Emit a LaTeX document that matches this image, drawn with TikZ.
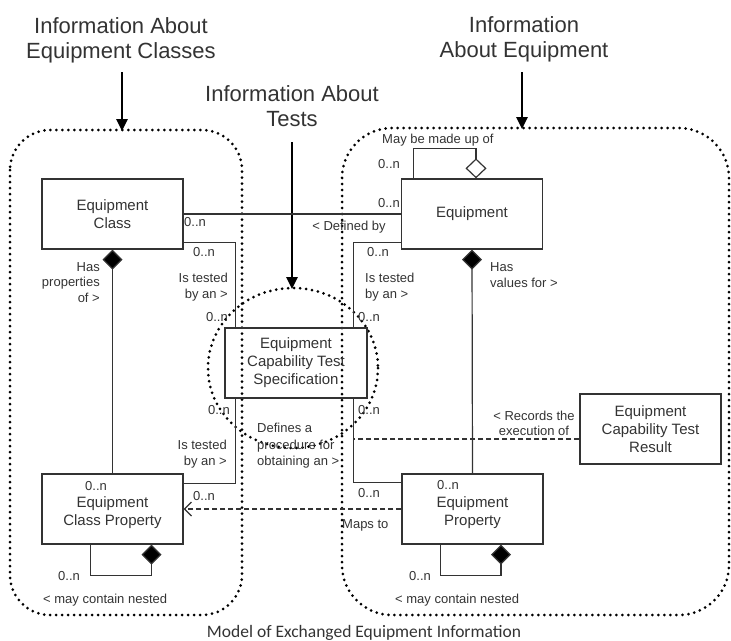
\documentclass[tikz,border=0pt]{standalone}
\usepackage{fontspec}
\setmainfont{Liberation Sans}
\newfontfamily\capfont{Carlito}
\usetikzlibrary{arrows.meta,calc}
\definecolor{ink}{HTML}{333333}
\begin{document}
\begin{tikzpicture}[x=1pt,y=-1pt,
  umlbox/.style={draw=ink, line width=1.3pt, minimum width=141pt, minimum height=70pt, inner sep=0pt, align=center, font=\fontsize{15}{18}\selectfont, text=ink},
  boxtext/.style={inner sep=0pt, align=center, font=\fontsize{15}{18}\selectfont, text=ink},
  lbl/.style={font=\fontsize{13}{15.5}\selectfont, text=ink, inner sep=0pt},
  ttl/.style={font=\fontsize{22}{25}\selectfont, align=center, text=ink, inner sep=0pt},
  conn/.style={draw=ink, line width=1.2pt},
  dashconn/.style={conn, dash pattern=on 5pt off 3pt},
  dotline/.style={draw=black, line width=3pt, line cap=round, dash pattern=on 0pt off 6pt},
  bigarrow/.style={draw=black, line width=2.5pt, -{Triangle[length=12pt,width=11pt]}},
  comp/.style={conn, {Diamond[length=20pt,width=20pt,fill=black]}-},
  aggr/.style={conn, {Diamond[open,length=20pt,width=21pt,fill=white]}-},
]
\useasboundingbox (0,0) rectangle (731,640);

% dotted groupings
\draw[dotline, rounded corners=40pt] (10,130) rectangle (242,615);
\draw[dotline, rounded corners=50pt] (342,128) rectangle (729,615);
\draw[dotline] (293,368) ellipse [x radius=85, y radius=80];

% titles and arrows
\node[ttl] (T1) at (121,40) {Information About\\Equipment Classes};
\node[ttl] (T2) at (524,39.5) {Information\\About Equipment};
\node[ttl] (T3) at (292,106) {Information About\\Tests};
\coordinate (a1s) at (122,72); \coordinate (a1e) at (122,131);
\coordinate (a2s) at (522,72); \coordinate (a2e) at (522,129);
\coordinate (a3s) at (292,142); \coordinate (a3e) at (292,289);
\draw[bigarrow] (a1s) -- (a1e);
\draw[bigarrow] (a2s) -- (a2e);
\draw[bigarrow] (a3s) -- (a3e);

% classes
\node[umlbox] (EC) at (112.5,214) {Equipment\\Class};
\node[umlbox] (E) at (472,214) {Equipment};
\node[umlbox, minimum width=142pt] (ECTS) at (296,363) {Equipment\\Capability Test\\Specification};
\node[umlbox] (ECTR) at (650.5,429) {Equipment\\Capability Test\\Result};
\node[umlbox] (ECP) at (112.5,509) {};
\node[boxtext] (ECPt) at ([yshift=-4pt]ECP.center) {Equipment\\Class Property};
\node[umlbox] (EP) at (472.5,509) {};
\node[boxtext] (EPt) at ([yshift=-4pt]EP.center) {Equipment\\Property};

% connectors
\draw[conn] (EC.east) -- (E.west);
\draw[conn] ([yshift=7pt]EC.south east) -| ([xshift=11pt]ECTS.north west);
\draw[conn] ([yshift=-10pt]ECP.north east) -| ([xshift=11pt]ECTS.south west);
\draw[conn] ([yshift=7pt]E.south west) -| ([xshift=-14pt]ECTS.north east);
\draw[conn] ([yshift=-9pt]EP.north west) -| ([xshift=-14pt]ECTS.south east);
\coordinate (assoc) at (353,439);
\draw[dashconn] ([yshift=-10pt]ECTR.west) -- (assoc);
\draw[dashconn, -{Straight Barb[length=7pt,width=14pt]}] (EP.west) -- (ECP.east);
\draw[comp] (EC.south) -- (ECP.north);
\draw[comp] (E.south) -- (EP.north);
\draw[aggr] ([xshift=4pt]E.north) -- ++(0,-30) -| ([xshift=13pt]E.north west);
\draw[comp] ([xshift=39pt]ECP.south) -- ++(0,31) -| ([xshift=49pt]ECP.south west);
\draw[comp] ([xshift=28.5pt]EP.south) -- ++(0,31) -| ([xshift=39.5pt]EP.south west);

% labels
\node[lbl, anchor=base west] (m1) at (184,226.7) {0..n};
\node[lbl, anchor=base east] (m2) at (400,207.7) {0..n};
\node[lbl, anchor=base] (defby) at (349,230.7) {< Defined by};
\node[lbl, anchor=base west] (m3) at (193,256.7) {0..n};
\node[lbl, align=right, anchor=north east] (it1) at (228,273.3) {Is tested\\by an >};
\node[lbl, anchor=base east] (m4) at (228,321.7) {0..n};
\node[lbl, anchor=base east] (m5) at (230,414.7) {0..n};
\node[lbl, align=right, anchor=north east] (it2) at (227,440.3) {Is tested\\by an >};
\node[lbl, anchor=base west] (m6) at (193,500.7) {0..n};
\node[lbl, anchor=base west] (m7) at (367,256.7) {0..n};
\node[lbl, align=left, anchor=north west] (it3) at (365,273.3) {Is tested\\by an >};
\node[lbl, anchor=base west] (m8) at (358,321.7) {0..n};
\node[lbl, anchor=base west] (m9) at (358,414.7) {0..n};
\node[lbl, anchor=base west] (m10) at (358,497.7) {0..n};
\node[lbl, align=left, anchor=north west, font=\fontsize{13}{16.5}\selectfont] (defs) at (257,423.3) {Defines a\\procedure for\\obtaining an >};
\node[lbl, align=center, anchor=north, font=\fontsize{13}{14.5}\selectfont] (rec) at (534,411.3) {< Records the\\execution of};
\node[lbl, anchor=base west] (maps) at (342,528.7) {Maps to};
\node[lbl, align=right, anchor=north east] (hasp) at (100,262.3) {Has\\properties\\of >};
\node[lbl, anchor=base west] (m11) at (85,490.5) {0..n};
\node[lbl, align=left, anchor=north west, font=\fontsize{13}{16}\selectfont] (hasv) at (490,262.3) {Has\\values for >};
\node[lbl, anchor=base west] (m12) at (437,489) {0..n};
\node[lbl, anchor=base west] (m13) at (378,168.7) {0..n};
\node[lbl, anchor=base west] (made) at (382,143.7) {May be made up of};
\node[lbl, anchor=base west] (m14) at (58,580.7) {0..n};
\node[lbl, anchor=base west] (nest1) at (43,603.7) {< may contain nested};
\node[lbl, anchor=base west] (m15) at (409,580.7) {0..n};
\node[lbl, anchor=base west] (nest2) at (395,603.7) {< may contain nested};

% caption
\node[font=\capfont\fontsize{17.5}{20}\selectfont, text=ink, anchor=base, inner sep=0pt] (cap) at (364,637) {Model of Exchanged Equipment Information};
\end{tikzpicture}
\end{document}
